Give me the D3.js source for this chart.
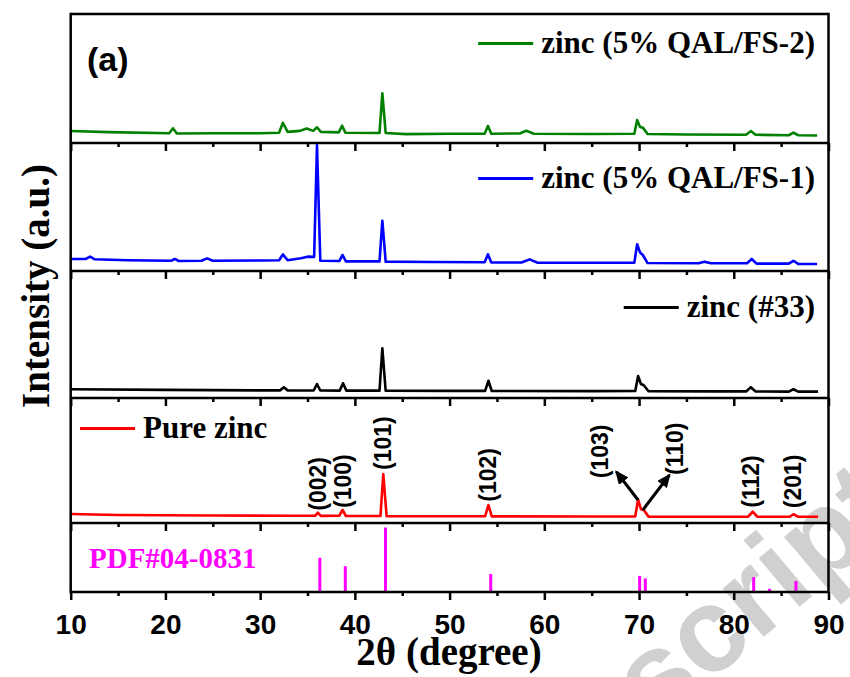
<!DOCTYPE html>
<html>
<head>
<meta charset="utf-8">
<script src="https://cdn.jsdelivr.net/npm/d3@7"></script>
<style>
  body { margin: 0; background: #fff; }
  svg { display: block; }
</style>
</head>
<body>
<svg id="chart" width="850" height="677"></svg>
<script>
// XRD patterns, one panel per sample (a.u., 0-100 of panel)
const zincFS2 = [
  [10, 9.3], [14, 8.4], [20.4, 7.6], [20.8, 11.4], [21.2, 7.4], [25, 7.6], [30, 7.6],
  [32.0, 8.0], [32.4, 15.7], [32.9, 8.6], [34.2, 9.4], [34.9, 11.2], [35.6, 9.4],
  [36.0, 12.2], [36.4, 8.6], [38.3, 8.2], [38.65, 13.4], [39.0, 8.0], [42.6, 7.8],
  [42.9, 38.5], [43.25, 7.8], [45.4, 6.9], [50, 7.2], [53.7, 7.2], [54.05, 13.2],
  [54.4, 7.2], [57.4, 7.4], [58.1, 9.5], [58.9, 7.2], [65, 7.0], [69.5, 7.2],
  [69.8, 17.8], [70.1, 12.5], [70.4, 11.9], [70.9, 7.0], [75, 6.6], [81.3, 6.4],
  [81.8, 9.3], [82.3, 6.4], [85.8, 6.0], [86.3, 8.0], [86.8, 6.0], [88.8, 5.8]
];
const zincFS1 = [
  [10, 9.4], [11.6, 9.4], [12.05, 11.2], [12.5, 9.2], [16, 8.4], [20.6, 8.0], [21.0, 9.4],
  [21.4, 7.8], [23.8, 8.0], [24.4, 9.9], [25.0, 8.0], [30, 8.2], [32.0, 8.4], [32.4, 13.0],
  [32.9, 8.4], [34.3, 10.0], [35.0, 11.2], [35.7, 11.0], [36.0, 98.4], [36.35, 8.0],
  [38.35, 7.8], [38.7, 12.5], [39.05, 7.5], [42.6, 7.5], [42.9, 39.3], [43.25, 7.3],
  [48, 7.0], [53.7, 6.8], [54.05, 13.0], [54.4, 6.6], [57.6, 6.6], [58.45, 9.1],
  [59.3, 6.4], [65, 6.4], [69.5, 6.4], [69.8, 20.9], [70.1, 14.5], [70.4, 12.5],
  [70.9, 6.2], [76.3, 6.0], [76.9, 7.3], [77.6, 6.0], [81.4, 6.0], [81.9, 9.4],
  [82.4, 5.8], [85.8, 5.8], [86.3, 8.0], [86.8, 5.6], [88.8, 5.5]
];
const zinc33 = [
  [10, 6.9], [20, 6.4], [30, 6.0], [32.1, 6.0], [32.5, 8.4], [32.9, 6.0], [35.65, 5.9],
  [36.0, 11.0], [36.35, 5.9], [38.4, 5.8], [38.75, 11.6], [39.1, 5.8], [42.6, 5.8],
  [42.9, 39.1], [43.25, 5.7], [50, 5.6], [53.75, 5.6], [54.1, 13.6], [54.45, 5.5],
  [65, 5.4], [69.6, 5.5], [69.9, 17.3], [70.2, 11.0], [70.5, 10.0], [71.0, 5.3],
  [78, 5.2], [81.3, 5.2], [81.8, 8.4], [82.3, 5.1], [85.8, 5.0], [86.3, 6.9],
  [86.8, 5.0], [88.9, 5.0]
];
const pureZinc = [
  [10, 7.2], [15, 6.4], [25, 6.0], [33, 5.8], [35.8, 5.8], [36.1, 8.2], [36.4, 5.7],
  [38.35, 5.8], [38.7, 10.4], [39.05, 5.6], [42.7, 5.6], [43.0, 39.2], [43.35, 5.5],
  [50, 5.4], [53.75, 5.4], [54.1, 14.4], [54.45, 5.3], [65, 5.2], [69.6, 5.3],
  [69.9, 19.0], [70.2, 11.0], [70.5, 10.4], [71.0, 5.1], [78, 5.0], [81.5, 5.0],
  [82.0, 9.0], [82.5, 5.0], [85.9, 5.0], [86.3, 7.0], [86.8, 5.0], [88.9, 5.0]
];

// PDF#04-0831 reference lines
const pdfAngles = [36.30, 38.99, 43.23, 54.34, 70.06, 70.66, 82.10, 83.78, 86.56];
const pdfIntensity = [53, 40, 100, 28, 25, 21, 23, 5, 17];

// (hkl) labels on the pure zinc panel: [label, 2θ of label, level of its foot]
const hklLabels = [
  ["(002)", 36.2, 9.8], ["(100)", 38.9, 12.0], ["(101)", 43.1, 42.4],
  ["(102)", 54.2, 17.0], ["(103)", 66.0, 35.8], ["(110)", 73.9, 38.4],
  ["(112)", 81.9, 12.2], ["(201)", 86.4, 11.8]
];
// arrows [from 2θ, from level, to 2θ, to level]
const hklArrows = [
  [69.9, 18.4, 67.6, 41.0],
  [70.4, 10.4, 73.2, 38.4]
];

const seriesNames = ["zinc (5% QAL/FS-2)", "zinc (5% QAL/FS-1)", "zinc (#33)", "Pure zinc"];
const seriesColors = ["#008000", "#0000ff", "#000000", "#ff0000"];
const xTickValues = [10, 20, 30, 40, 50, 60, 70, 80, 90];

const svg = d3.select("#chart");
const left = 70.7, right = 828.5;
const bounds = [14, 143, 271, 398, 523, 592]; // panel edges top to bottom
const serif = "'Liberation Serif','Times New Roman',serif";
const sans = "'Liberation Sans',Arial,sans-serif";

const x = d3.scaleLinear().domain([10, 90]).range([left, right]);

// watermark from the source page
svg.append("text")
  .attr("transform", "translate(655,728) rotate(-40)")
  .attr("font-family", sans)
  .attr("font-weight", "bold")
  .attr("font-size", 120)
  .attr("fill", "#d0d0d0")
  .text("script");

const series = [zincFS2, zincFS1, zinc33, pureZinc];
const yScales = series.map((s, i) =>
  d3.scaleLinear().domain([0, 100]).range([bounds[i + 1], bounds[i]])
);

series.forEach((data, i) => {
  const line = d3.line().x((d) => x(d[0])).y((d) => yScales[i](d[1]));
  svg.append("path")
    .datum(data)
    .attr("d", line)
    .attr("fill", "none")
    .attr("stroke", seriesColors[i])
    .attr("stroke-width", 2.6)
    .attr("stroke-linejoin", "round");
});

// reference sticks
const yPdf = d3.scaleLinear().domain([0, 107]).range([bounds[5], bounds[4]]);
svg.append("g")
  .selectAll("line")
  .data(pdfAngles)
  .join("line")
  .attr("x1", (d) => x(d))
  .attr("x2", (d) => x(d))
  .attr("y1", yPdf(0))
  .attr("y2", (d, i) => yPdf(pdfIntensity[i]))
  .attr("stroke", "#ff00ff")
  .attr("stroke-width", 3);

// frame: horizontal panel edges with ticks pointing down
bounds.forEach((b, i) => {
  const g = svg.append("g").attr("transform", `translate(0,${b})`);
  if (i === 0) {
    g.append("line").attr("x1", left).attr("x2", right)
      .attr("stroke", "#000").attr("stroke-width", 2.5);
    return;
  }
  const axis = d3.axisBottom(x).tickValues(xTickValues).tickSize(8).tickSizeOuter(0)
    .tickFormat(i === bounds.length - 1 ? d3.format("d") : "");
  g.call(axis);
  g.select(".domain").attr("stroke-width", 2.5).attr("d", `M${left},0H${right}`);
  g.selectAll(".tick line").attr("stroke-width", 2.5);
  g.selectAll(".tick text")
    .attr("font-family", sans).attr("font-weight", "bold")
    .attr("font-size", 28).attr("fill", "#000").attr("dy", null).attr("y", 42);
  const minor = d3.axisBottom(x).tickValues(d3.range(15, 90, 10)).tickSize(4).tickFormat("");
  const mg = svg.append("g").attr("transform", `translate(0,${b})`).call(minor);
  mg.select(".domain").remove();
  mg.selectAll(".tick line").attr("stroke-width", 2.5);
});
[left, right].forEach((px) => {
  svg.append("line")
    .attr("x1", px).attr("x2", px)
    .attr("y1", bounds[0] - 1.25).attr("y2", bounds[5] + 1.25)
    .attr("stroke", "#000").attr("stroke-width", 2.5);
});

// legends
const legendRows = [
  { name: seriesNames[0], color: seriesColors[0], y: 53, anchor: "end", px: 815 },
  { name: seriesNames[1], color: seriesColors[1], y: 188, anchor: "end", px: 815 },
  { name: seriesNames[2], color: seriesColors[2], y: 317, anchor: "end", px: 815 },
  { name: seriesNames[3], color: seriesColors[3], y: 438, anchor: "start", px: 143 }
];
legendRows.forEach((r) => {
  const t = svg.append("text")
    .attr("x", r.px).attr("y", r.y)
    .attr("text-anchor", r.anchor)
    .attr("font-family", serif).attr("font-weight", "bold").attr("font-size", 31)
    .text(r.name);
  const start = r.anchor === "end" ? r.px - t.node().getComputedTextLength() : r.px;
  svg.append("line")
    .attr("x1", start - 63).attr("x2", start - 8)
    .attr("y1", r.y - 9.5).attr("y2", r.y - 9.5)
    .attr("stroke", r.color).attr("stroke-width", 3);
});

svg.append("text")
  .attr("x", 89).attr("y", 568)
  .attr("font-family", serif).attr("font-weight", "bold").attr("font-size", 29)
  .attr("fill", "#ff00ff")
  .text("PDF#04-0831");

svg.append("text")
  .attr("x", 87).attr("y", 71)
  .attr("font-family", sans).attr("font-weight", "bold").attr("font-size", 34)
  .text("(a)");

// hkl labels
const yRed = yScales[3];
svg.append("g")
  .selectAll("text")
  .data(hklLabels)
  .join("text")
  .attr("transform", (d) => `translate(${x(d[1])},${yRed(d[2])}) rotate(-90)`)
  .attr("dy", "0.3em")
  .attr("font-family", sans).attr("font-weight", "bold").attr("font-size", 23)
  .text((d) => d[0]);

svg.append("defs").append("marker")
  .attr("id", "head")
  .attr("markerUnits", "userSpaceOnUse")
  .attr("viewBox", "0 -6 14 12")
  .attr("refX", 12).attr("refY", 0)
  .attr("markerWidth", 14).attr("markerHeight", 12)
  .attr("orient", "auto")
  .append("path")
  .attr("d", "M0,-6L14,0L0,6Z")
  .attr("fill", "#000");

svg.append("g")
  .selectAll("line")
  .data(hklArrows)
  .join("line")
  .attr("x1", (d) => x(d[0])).attr("y1", (d) => yRed(d[1]))
  .attr("x2", (d) => x(d[2])).attr("y2", (d) => yRed(d[3]))
  .attr("stroke", "#000").attr("stroke-width", 3)
  .attr("marker-end", "url(#head)");

// axis titles
svg.append("text")
  .attr("x", 449).attr("y", 665)
  .attr("text-anchor", "middle")
  .attr("font-family", serif).attr("font-weight", "bold").attr("font-size", 39)
  .text("2θ (degree)");

svg.append("text")
  .attr("transform", "translate(49,286) rotate(-90)")
  .attr("text-anchor", "middle")
  .attr("font-family", serif).attr("font-weight", "bold").attr("font-size", 39)
  .text("Intensity (a.u.)");
</script>
</body>
</html>
